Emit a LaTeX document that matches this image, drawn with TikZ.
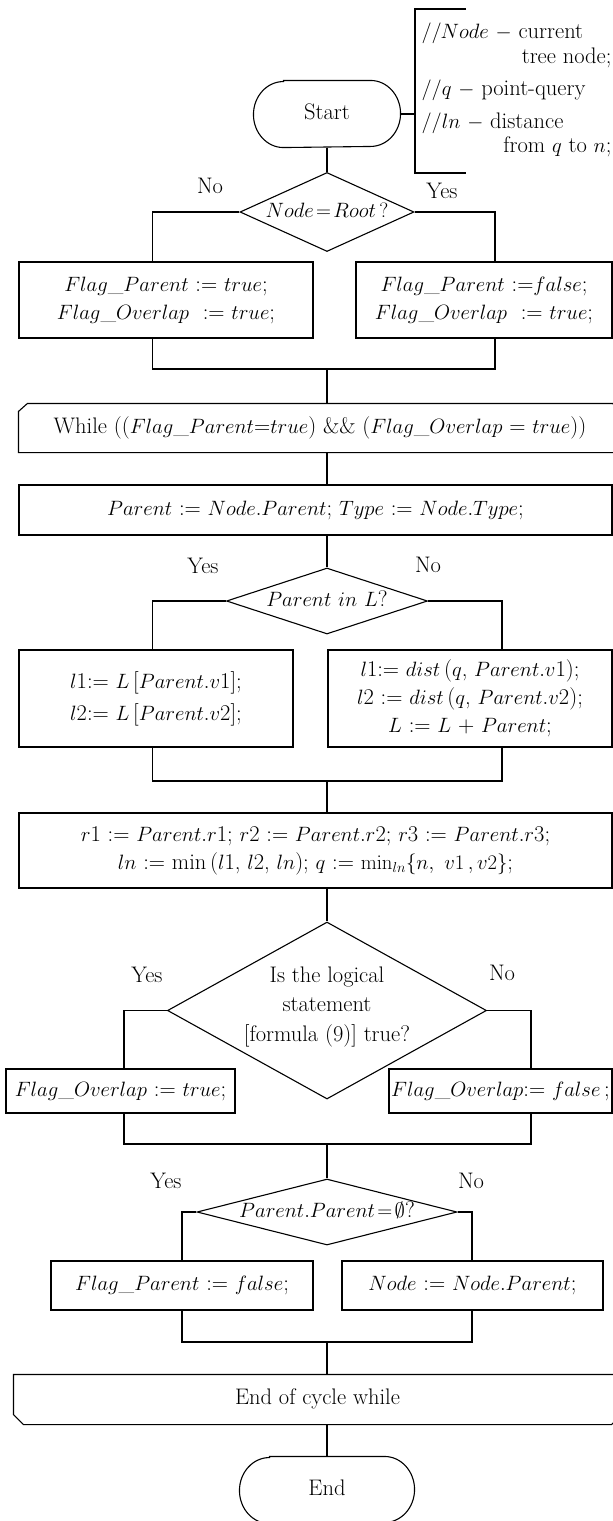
\documentclass[tikz,border=0pt]{standalone}
\usetikzlibrary{shapes.geometric}
\begin{document}
\begin{tikzpicture}[x=1pt,y=-1pt,line width=1.1pt,
  every node/.style={font=\fontsize{22.5}{28}\selectfont, inner sep=0pt},
  box/.style={draw, rectangle, align=center},
  dia/.style={draw, diamond},
  one/.style={text height=15pt, text depth=5pt},
  lines/.style={align=center}
]
\useasboundingbox (0,0) rectangle (613,1521);
\fill[white] (0,0) rectangle (613,1521);
\clip (0,0) rectangle (613,1521);

% ---- Start ----
\node[one, minimum width=146, minimum height=66] (s) at (327,114) {Start};
\draw ([xshift=30pt]s.north west) -- ([xshift=-30pt]s.north east)
  arc[start angle=90,end angle=-90,x radius=30pt,y radius=33pt]
  -- ([xshift=30pt]s.south west)
  arc[start angle=270,end angle=90,x radius=30pt,y radius=33pt] -- cycle;

% ---- comment ----
\coordinate (bt) at (466,9);
\coordinate (bT) at (415,9);
\coordinate (bB) at (415,173);
\coordinate (bb) at (466,173);
\coordinate (bm) at (415,114);
\draw (bt) -- (bT) -- (bB) -- (bb);
\draw (s.east) -- (bm);
\node[one, anchor=west] (c1) at (421,33) {$//Node$ $-$ current};
\node[one, anchor=east] (c2) at (612,58) {tree node;};
\node[one, anchor=west] (c3) at (421,90) {$//q$ $-$ point-query};
\node[one, anchor=west] (c4) at (421,123) {$//ln$ $-$ distance};
\node[one, anchor=east] (c5) at (612,147) {from $q$ to $n$;};

% ---- decision 1 ----
\node[dia, minimum width=174, minimum height=79] (d1) at (327,212) {};
\node[one] (d1t) at (d1.center) {$Node\!=\!Root\,?$};
\node[one] (n1) at (210,188) {No};
\node[one] (y1) at (442,193) {Yes};
\draw (s.south) -- (d1.north);
\coordinate (L1) at (152.5,212);
\coordinate (R1) at (495,212);
\node[box, minimum width=294, minimum height=76] (b1l) at (166,300)
  {$Flag\_Parent$ := $true$;\\ $Flag\_Overlap$\ \ := $true$;};
\node[box, minimum width=256, minimum height=76] (b1r) at (484,300)
  {$Flag\_Parent$ :=$false$;\\ $Flag\_Overlap$\ \ := $true$;};
\draw (d1.west) -- (L1) -- (L1 |- b1l.north);
\draw (d1.east) -- (R1) -- (R1 |- b1r.north);
\coordinate (m1) at (327,369);
\draw (L1 |- b1l.south) -- (L1 |- m1) -- (R1 |- m1) -- (R1 |- b1r.south);

% ---- while ----
\node[one, minimum width=602, minimum height=48] (wh) at (320,428)
  {While (($Flag\_Parent$=$true$) \&\& ($Flag\_Overlap$ = $true$))};
\draw (wh.south west) -- ([yshift=-8pt]wh.north west) -- ([xshift=9pt]wh.north west)
  -- ([xshift=-9pt]wh.north east) -- ([yshift=-8pt]wh.north east) -- (wh.south east) -- cycle;
\draw (m1) -- (m1 |- wh.north);

% ---- parent box ----
\node[box, one, minimum width=593, minimum height=50] (pb) at (315.5,510)
  {$Parent$ := $Node.Parent$; $Type$ := $Node.Type$;};
\draw (m1 |- wh.south) -- (m1 |- pb.north);

% ---- decision 2 ----
\node[dia, minimum width=201, minimum height=66] (d2) at (327,601) {};
\node[one] (d2t) at (d2.center) {$Parent\ in\ L$?};
\node[one] (y2) at (203,568) {Yes};
\node[one] (n2) at (428,567) {No};
\draw (m1 |- pb.south) -- (d2.north);
\coordinate (L2) at (152.5,601);
\coordinate (R2) at (502,601);
\node[box, minimum width=274, minimum height=97] (b2l) at (156,698.5)
  {$l$1:= $L$\,{[}$Parent.v$1{]};\\[4pt] $l$2:= $L$\,{[}$Parent.v$2{]};};
\node[box, minimum width=284, minimum height=97] (b2r) at (470,698.5)
  {$l$1:= $dist$\,($q$, $Parent.v$1);\\ $l$2 := $dist$\,($q$, $Parent.v$2);\\ $L$ := $L$ + $Parent$;};
\draw (d2.west) -- (L2) -- (L2 |- b2l.north);
\draw (d2.east) -- (R2) -- (R2 |- b2r.north);
\coordinate (m2) at (327,781);
\draw (L2 |- b2l.south) -- (L2 |- m2) -- (R2 |- m2) -- (R2 |- b2r.south);

% ---- r box ----
\node[box, minimum width=593, minimum height=75] (rb) at (315.5,850.5)
  {$r$1 := $Parent.r$1; $r$2 := $Parent.r$2; $r$3 := $Parent.r$3;\\
   $ln$ := min\,($l$1, $l$2, $ln$); $q$ := $\min_{ln}\{n,\ v1\,,v2\}$;};
\draw (m2) -- (m2 |- rb.north);

% ---- decision 3 ----
\node[dia, minimum width=319, minimum height=177] (d3) at (327,1010.5) {};
\node[align=center, font=\fontsize{22.5}{29.5}\selectfont] (d3t) at (327,1006.5)
  {Is the logical\\ statement\\ {[}formula (9){]} true?};
\node[one] (y3) at (147,977) {Yes};
\node[one] (n3) at (502,975) {No};
\draw (m2 |- rb.south) -- (d3.north);
\coordinate (L3) at (124,1010.5);
\coordinate (R3) at (531,1010.5);
\node[box, one, minimum width=229, minimum height=44] (b3l) at (120.5,1091)
  {$Flag\_Overlap$ := $true$;};
\node[box, one, minimum width=223, minimum height=44] (b3r) at (500.5,1091)
  {$Flag\_Overlap$:= $false$\,;};
\draw (d3.west) -- (L3) -- (L3 |- b3l.north);
\draw (d3.east) -- (R3) -- (R3 |- b3r.north);
\coordinate (m3) at (327,1144);
\draw (L3 |- b3l.south) -- (L3 |- m3) -- (R3 |- m3) -- (R3 |- b3r.south);

% ---- decision 4 ----
\node[dia, minimum width=260, minimum height=66] (d4) at (327,1212) {};
\node[one] (d4t) at (d4.center) {$Parent.Parent\!=\!\emptyset$?};
\node[one] (y4) at (166,1183) {Yes};
\node[one] (n4) at (471,1183) {No};
\draw (m3) -- (d4.north);
\coordinate (L4) at (182,1212);
\coordinate (R4) at (472,1212);
\node[box, one, minimum width=262, minimum height=49] (b4l) at (182,1285.5)
  {$Flag\_Parent$ := $false$;};
\node[box, one, minimum width=261, minimum height=49] (b4r) at (472.5,1285.5)
  {$Node$ := $Node.Parent$;};
\draw (d4.west) -- (L4) -- (L4 |- b4l.north);
\draw (d4.east) -- (R4) -- (R4 |- b4r.north);
\coordinate (m4) at (327,1342);
\draw (L4 |- b4l.south) -- (L4 |- m4) -- (R4 |- m4) -- (R4 |- b4r.south);

% ---- end while ----
\node[one, minimum width=607, minimum height=49] (ew) at (317.5,1399.5) {End of cycle while};
\draw (ew.north west) -- ([yshift=10pt]ew.south west) -- ([xshift=10pt]ew.south west)
  -- ([xshift=-10pt]ew.south east) -- ([yshift=10pt]ew.south east) -- (ew.north east) -- cycle;
\draw (m4) -- (m4 |- ew.north);

% ---- End ----
\node[one, minimum width=174, minimum height=66] (e) at (327,1490) {End};
\draw ([xshift=30pt]e.north west) -- ([xshift=-30pt]e.north east)
  arc[start angle=90,end angle=-90,x radius=30pt,y radius=33pt]
  -- ([xshift=30pt]e.south west)
  arc[start angle=270,end angle=90,x radius=30pt,y radius=33pt] -- cycle;
\draw (m4 |- ew.south) -- (e.north);
\end{tikzpicture}
\end{document}
